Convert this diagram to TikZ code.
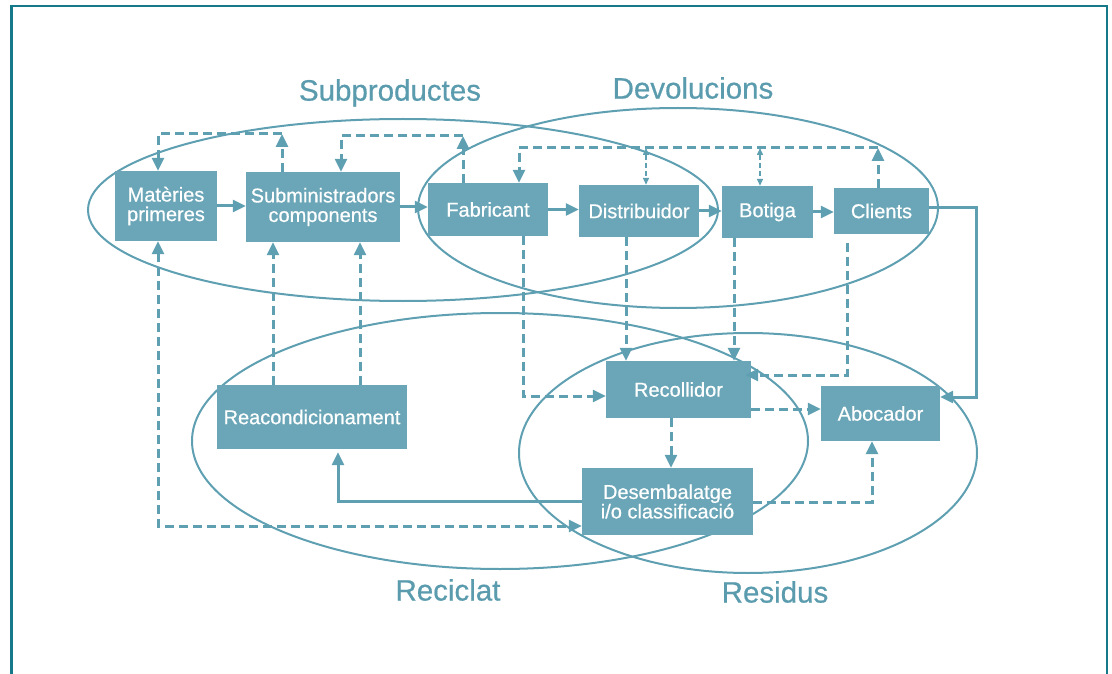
\documentclass[tikz,border=0pt]{standalone}
\usepackage{fontspec}
\setmainfont{Liberation Sans}
\newfontfamily\medfont[FakeBold=0.6]{Liberation Sans}
\usetikzlibrary{arrows.meta}
\definecolor{boxc}{HTML}{6AA6B7}
\definecolor{linec}{HTML}{5E9FB2}
\definecolor{labc}{HTML}{5A9BAE}
\definecolor{framec}{HTML}{15798A}
\tikzset{
  box/.style={fill=boxc, text=white, font=\medfont\fontsize{20}{19.5}\selectfont, align=center, inner sep=0pt},
  solidarrow/.style={draw=linec, line width=3pt, -{Triangle[length=13pt,width=12pt]}},
  dasharrow/.style={solidarrow, dash pattern=on 9pt off 5pt},
  dashplain/.style={draw=linec, line width=3pt, dash pattern=on 9pt off 5pt},
  thindash/.style={draw=linec, line width=1.5pt, dash pattern=on 5pt off 3pt, {Triangle[length=7pt,width=6pt]}-{Triangle[length=7pt,width=6pt]}},
  oval/.style={draw=linec, line width=2pt},
  lab/.style={text=labc, font=\medfont\fontsize{29.5}{31}\selectfont, inner sep=0pt},
}
\begin{document}
\begin{tikzpicture}[x=1pt, y=-1pt]
\useasboundingbox (0,0) rectangle (1112,674);
% frame
\draw[framec, line width=2.6pt] (11.5,674) -- (11.5,6) -- (1107,6) -- (1107,674);

% ellipses
\draw[oval] (403,210) ellipse [x radius=315, y radius=91];
\draw[oval] (678,208) ellipse [x radius=260, y radius=100];
\draw[oval] (500,441) ellipse [x radius=308, y radius=128];
\draw[oval] (748,453) ellipse [x radius=229, y radius=120];

% labels
\node[lab] (lsub) at (390,93) {Subproductes};
\node[lab] (ldev) at (693,88) {Devolucions};
\node[lab] (lrec) at (448,590) {Reciclat};
\node[lab] (lres) at (775,592) {Residus};

% boxes
\node[box, minimum width=102pt, minimum height=70pt] (mat) at (166,206) {Matèries\\primeres};
\node[box, minimum width=154pt, minimum height=70pt] (sub) at (323,207) {Subministradors\\components};
\node[box, minimum width=120pt, minimum height=53pt] (fab) at (488,209.5) {Fabricant};
\node[box, minimum width=120pt, minimum height=52pt] (dis) at (639,211) {Distribuidor};
\node[box, minimum width=91pt, minimum height=52pt] (bot) at (767.5,212) {Botiga};
\node[box, minimum width=95pt, minimum height=46pt] (cli) at (881.5,211) {Clients};
\node[box, minimum width=190pt, minimum height=64pt] (rea) at (312,417) {Reacondicionament};
\node[box, minimum width=145pt, minimum height=57pt] (rec) at (678.5,389.5) {Recollidor};
\node[box, minimum width=119pt, minimum height=55pt] (abo) at (880.5,413.5) {Abocador};
\node[box, minimum width=171pt, minimum height=67pt] (des) at (667.5,501.5) {Desembalatge\\i/o classificació};

% routing coordinates
\coordinate (c1) at (158,134);
\coordinate (c2) at (282,134);
\coordinate (c3) at (341,136);
\coordinate (c4) at (463,136);
\coordinate (c5) at (519,148);
\coordinate (c6) at (878,148);
\coordinate (c7) at (646,148);
\coordinate (c8) at (760,148);
\coordinate (c9) at (158,526);
\coordinate (x273) at (273,300);
\coordinate (x360) at (360,300);
\coordinate (c11) at (523,396);
\coordinate (x626) at (626,300);
\coordinate (x734) at (734,300);
\coordinate (c14) at (847,375);
\coordinate (y409) at (785,409);
\coordinate (x671) at (671,440);
\coordinate (c17) at (872,502);
\coordinate (c18) at (338,501);
\coordinate (ca) at (976,208);
\coordinate (cb) at (976,397);

% main flow
\draw[solidarrow] (mat.east) -- (mat.east -| sub.west);
\draw[solidarrow] (sub.east) -- (sub.east -| fab.west);
\draw[solidarrow] (fab.east) -- (fab.east -| dis.west);
\draw[solidarrow] (dis.east) -- (dis.east -| bot.west);
\draw[solidarrow] (bot.east) -- (bot.east -| cli.west);

% top dashed loops
\draw[dasharrow] (sub.north -| c2) -- (c2);
\draw[dasharrow] (c2) -- (c1) -- (mat.north -| c1);
\draw[dasharrow] (fab.north -| c4) -- (c4);
\draw[dasharrow] (c4) -- (c3) -- (sub.north -| c3);
\draw[dasharrow] (cli.north -| c6) -- (c6);
\draw[dasharrow] (c6) -- (c5) -- (fab.north -| c5);
\draw[thindash] (c7) -- (dis.north -| c7);
\draw[thindash] (c8) -- (bot.north -| c8);

% lower dashed connections
\draw[dashplain, {Triangle[length=13pt,width=12pt]}-{Triangle[length=13pt,width=12pt]}] (mat.south -| c9) -- (c9) -- (des.west |- c9);
\draw[dasharrow] (rea.north -| x273) -- (sub.south -| x273);
\draw[dasharrow] (rea.north -| x360) -- (sub.south -| x360);
\draw[dasharrow] (fab.south -| c11) -- (c11) -- (rec.west |- c11);
\draw[dasharrow] (dis.south -| x626) -- (rec.north -| x626);
\draw[dasharrow] (bot.south -| x734) -- (rec.north -| x734);
\draw[dasharrow, shorten <=9pt, shorten >=-6pt] (cli.south -| c14) -- (c14) -- (rec.east |- c14);
\draw[dasharrow] (rec.east |- y409) -- (abo.west |- y409);
\draw[dasharrow] (rec.south -| x671) -- (des.north -| x671);
\draw[dasharrow] (des.east |- c17) -- (c17) -- (abo.south -| c17);

% solid returns
\draw[solidarrow, shorten >=3pt] (des.west |- c18) -- (c18) -- (rea.south -| c18);
\draw[solidarrow] (cli.east |- ca) -- (ca) -- (cb) -- (abo.east |- cb);
\end{tikzpicture}
\end{document}
